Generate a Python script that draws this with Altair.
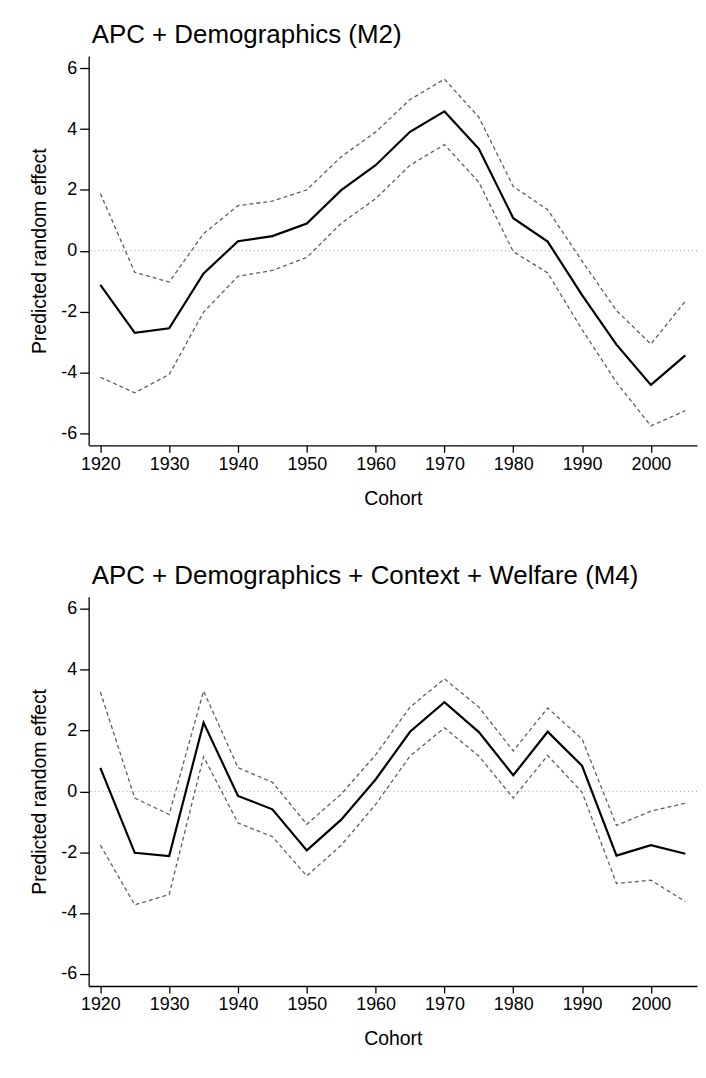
import altair as alt
import pandas as pd

cohorts = [1920, 1925, 1930, 1935, 1940, 1945, 1950, 1955, 1960,
           1965, 1970, 1975, 1980, 1985, 1990, 1995, 2000, 2005]

# Panel 1: APC + Demographics (M2)
m2_est = [-1.12, -2.70, -2.55, -0.75, 0.31, 0.48, 0.89, 1.99, 2.81,
          3.91, 4.58, 3.35, 1.07, 0.30, -1.46, -3.09, -4.41, -3.44]
m2_hi = [1.88, -0.71, -1.03, 0.56, 1.48, 1.63, 2.00, 3.09, 3.90,
         4.97, 5.64, 4.39, 2.11, 1.35, -0.34, -1.97, -3.07, -1.66]
m2_lo = [-4.16, -4.67, -4.07, -2.02, -0.84, -0.65, -0.22, 0.90, 1.71,
         2.81, 3.49, 2.25, -0.03, -0.73, -2.59, -4.33, -5.76, -5.26]

# Panel 2: APC + Demographics + Context + Welfare (M4)
m4_est = [0.77, -2.02, -2.13, 2.26, -0.15, -0.59, -1.94, -0.93, 0.39,
          1.96, 2.93, 1.95, 0.53, 1.96, 0.84, -2.11, -1.77, -2.05]
m4_hi = [3.27, -0.22, -0.76, 3.30, 0.78, 0.30, -1.08, -0.09, 1.20,
         2.77, 3.70, 2.77, 1.33, 2.74, 1.72, -1.12, -0.65, -0.39]
m4_lo = [-1.77, -3.73, -3.39, 1.14, -1.04, -1.49, -2.78, -1.77, -0.43,
         1.16, 2.09, 1.16, -0.22, 1.18, -0.03, -3.03, -2.92, -3.62]

titles = ["APC + Demographics (M2)",
          "APC + Demographics + Context + Welfare (M4)"]
x_ticks = [1920, 1930, 1940, 1950, 1960, 1970, 1980, 1990, 2000]
y_ticks = [-6, -4, -2, 0, 2, 4, 6]

FONT = "Liberation Sans"


def panel(title, est, lo, hi):
    df = pd.DataFrame({"cohort": cohorts, "est": est, "lo": lo, "hi": hi})
    xenc = alt.X(
        "cohort:Q",
        scale=alt.Scale(domain=[1918.3, 2006.7], nice=False, zero=False),
        axis=alt.Axis(values=x_ticks, labelExpr="toString(datum.value)",
                      title="Cohort", tickSize=7, labelPadding=3,
                      titlePadding=16),
    )
    yscale = alt.Scale(domain=[-6.4, 6.4], nice=False, zero=False)
    yaxis = alt.Axis(values=y_ticks, labelExpr="toString(datum.value)",
                     title="Predicted random effect", tickSize=9,
                     labelPadding=3, titlePadding=11)
    zero = alt.Chart(pd.DataFrame({"z": [0]})).mark_rule(
        color="#9a9a9a", strokeDash=[1, 3], strokeWidth=1
    ).encode(y=alt.Y("z:Q", scale=yscale, axis=yaxis))
    ci = alt.Chart(df).transform_fold(["lo", "hi"], as_=["bound", "val"]).mark_line(
        color="#5f5f5f", strokeDash=[4, 3], strokeWidth=1.3
    ).encode(x=xenc, y=alt.Y("val:Q", scale=yscale, axis=yaxis),
             detail="bound:N")
    main = alt.Chart(df).mark_line(color="black", strokeWidth=2.2).encode(
        x=xenc, y=alt.Y("est:Q", scale=yscale, axis=yaxis))
    return alt.layer(zero, ci, main).properties(
        width=611, height=391,
        title=alt.TitleParams(title, anchor="start", frame="group",
                              offset=8, dx=3),
    )


chart = alt.vconcat(
    panel(titles[0], m2_est, m2_lo, m2_hi),
    panel(titles[1], m4_est, m4_lo, m4_hi),
    spacing=55,
).properties(
    padding={"left": 21, "top": 12, "right": 0, "bottom": 0}
).configure_view(stroke=None).configure_axis(
    grid=False, domainColor="black", domainWidth=1.3, tickColor="black",
    tickWidth=1.3, labelFont=FONT, labelFontSize=18, labelColor="black",
    titleFont=FONT, titleFontSize=19.5, titleFontWeight="normal",
    titleColor="black",
).configure_title(
    font=FONT, fontSize=26, fontWeight="normal", color="black"
)

chart.save("out.html", embed_options={"renderer": "svg", "actions": False})
